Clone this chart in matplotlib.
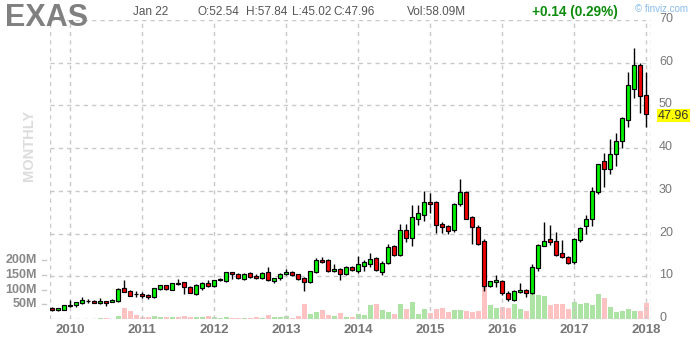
import matplotlib
matplotlib.use("Agg")
import matplotlib.pyplot as plt
import numpy as np

# ---------------- data (monthly, Oct 2009 .. Jan 2018) ----------------
opens = [2.5, 2.05, 2.05, 3.15, 3.2, 3.7, 4.15, 4.3, 3.7, 4.2,
         4.0, 4.1, 7.2, 6.6, 5.85, 5.85, 5.6, 5.1, 6.95, 7.9,
         6.9, 8.35, 8.6, 7.5, 5.95, 7.2, 8.4, 7.8, 9.2, 8.9,
         10.9, 10.5, 9.3, 10.8, 10.1, 9.5, 10.9, 9.0, 9.5, 10.5,
         11.0, 10.5, 9.6, 8.7, 10.9, 13.8, 13.8, 11.2, 11.7, 10.6,
         12.2, 11.2, 12.3, 12.8, 14.3, 10.9, 13.0, 17.0, 15.1, 20.8,
         18.9, 23.5, 24.3, 27.5, 27.3, 22.2, 21.8, 20.8, 26.9, 29.7,
         23.8, 21.5, 18.3, 7.8, 8.6, 8.9, 6.2, 4.5, 6.3, 6.9,
         6.2, 11.9, 17.2, 18.7, 18.2, 15.5, 14.6, 13.3, 18.4, 21.7,
         23.3, 29.7, 36.9, 35.1, 38.6, 41.6, 46.5, 53.8, 59.5, 52.54]
highs = [2.7, 2.6, 3.3, 4.45, 4.0, 5.1, 4.6, 4.5, 4.8, 4.3,
         4.7, 7.2, 9.1, 6.8, 6.6, 6.4, 5.9, 7.3, 8.0, 8.0,
         8.5, 9.3, 8.7, 7.7, 8.1, 8.6, 9.1, 9.2, 9.6, 11.1,
         11.0, 10.8, 10.7, 10.9, 10.6, 10.9, 12.1, 9.6, 10.7, 11.8,
         11.2, 10.6, 9.8, 11.3, 14.2, 14.6, 14.0, 12.9, 11.9, 12.3,
         12.4, 14.75, 13.9, 15.4, 14.5, 13.5, 17.6, 17.3, 22.2, 22.2,
         26.7, 26.7, 30.0, 29.4, 27.6, 22.6, 22.0, 27.1, 32.8, 30.0,
         24.2, 21.9, 18.7, 9.0, 10.2, 9.2, 6.6, 6.9, 8.5, 7.0,
         12.8, 17.5, 22.7, 22.0, 20.4, 18.5, 14.8, 18.9, 21.5, 24.4,
         30.8, 36.4, 38.8, 42.2, 43.6, 47.4, 57.8, 63.4, 59.9, 57.84]
lows = [1.9, 1.95, 2.0, 2.9, 2.9, 3.6, 3.7, 3.7, 3.6, 3.0,
        3.9, 4.0, 6.3, 5.3, 5.2, 5.0, 4.6, 4.9, 6.8, 6.8,
        6.8, 8.0, 5.8, 6.0, 5.7, 6.8, 7.5, 7.6, 8.8, 8.7,
        9.3, 9.3, 9.2, 9.6, 9.3, 9.3, 8.8, 8.5, 9.2, 10.2,
        10.1, 9.1, 6.6, 8.5, 10.8, 13.0, 11.0, 11.0, 9.2, 10.3,
        11.3, 10.7, 11.3, 12.1, 11.3, 10.4, 12.8, 14.8, 14.8, 18.1,
        17.1, 21.9, 23.0, 24.7, 20.1, 20.2, 19.8, 20.3, 26.5, 23.3,
        17.6, 17.4, 6.6, 7.5, 7.4, 5.6, 4.3, 4.2, 6.1, 5.1,
        5.8, 11.3, 17.0, 17.4, 14.8, 14.3, 12.9, 12.8, 18.0, 20.0,
        21.8, 29.2, 30.8, 34.0, 35.9, 40.1, 45.0, 51.7, 48.2, 45.02]
closes = [2.05, 2.5, 3.2, 3.1, 3.9, 4.35, 4.1, 3.75, 4.2, 3.7,
          4.5, 6.95, 6.4, 5.5, 5.8, 5.3, 5.1, 7.2, 7.9, 6.95,
          8.4, 8.25, 7.4, 6.2, 7.9, 8.4, 7.65, 9.1, 9.3, 10.9,
          10.5, 9.5, 10.6, 9.8, 9.5, 10.8, 9.05, 9.5, 10.5, 11.0,
          10.2, 9.3, 8.7, 11.2, 13.8, 13.3, 11.2, 11.7, 10.6, 12.2,
          11.4, 12.9, 13.35, 14.05, 11.5, 13.2, 16.8, 15.1, 20.8, 18.9,
          23.8, 24.8, 27.3, 26.9, 21.9, 21.6, 20.5, 26.9, 29.7, 23.5,
          21.6, 17.5, 7.8, 8.8, 9.1, 6.2, 4.6, 6.6, 6.8, 6.2,
          12.1, 17.3, 18.2, 18.1, 15.1, 14.4, 13.0, 18.7, 21.2, 23.4,
          29.9, 36.2, 35.1, 38.6, 41.6, 47.0, 54.8, 59.5, 52.1, 47.96]
volumes_m = [0.5, 0.5, 0.5, 0.5, 0.5, 1, 1, 1, 4.5, 2.3,
             1, 10, 37, 28, 14, 7, 7, 10, 7, 7,
             7, 7, 10, 7, 7, 7, 10, 7, 4.5, 5.5,
             3.4, 3.4, 3.4, 4, 6, 3.4, 13, 7, 7, 9,
             3.4, 10, 51, 17, 24, 31, 13.6, 9, 20, 6.8,
             6.8, 17, 14.7, 47.6, 51, 30.6, 25, 18, 51, 35,
             58, 17, 34, 20.4, 34, 37.4, 25, 29, 30.6, 27.2,
             25, 26, 112, 47.6, 37.4, 40.8, 37.4, 51, 34, 27,
             120, 80, 78, 46.5, 51, 51, 33, 58, 51, 55,
             46.5, 85, 70, 40.8, 23.8, 27, 34, 27, 27, 54]
year_labels = ["2010", "2011", "2012", "2013", "2014", "2015", "2016", "2017", "2018"]
year_index = [3, 15, 27, 39, 51, 63, 75, 87, 99]
price_ticks = [0, 10, 20, 30, 40, 50, 60, 70]
vol_ticks = [50, 100, 150, 200]
vol_tick_labels = ["50M", "100M", "150M", "200M"]
header_ohlc = ["O:52.54", "H:57.84", "L:45.02", "C:47.96"]

# ---------------- figure ----------------
W, H = 700, 340
fig = plt.figure(figsize=(W / 100, H / 100), dpi=100)
fig.patch.set_facecolor("white")

ax_l, ax_r, ax_t, ax_b = 50, 651, 20, 319
pos = [ax_l / W, 1 - ax_b / H, (ax_r - ax_l) / W, (ax_b - ax_t) / H]
vax = fig.add_axes(pos)
ax = fig.add_axes(pos)
ax.patch.set_alpha(0)

n = len(closes)
x = np.arange(n)
x0 = (ax_l - 52.3) / 6.0
x1 = (ax_r - 52.3) / 6.0

grid_c = "#c8c8c8"
dash = (0, (3, 3))

# volume
vol_max = (ax_b - ax_t) / 0.294
up = [c >= o for o, c in zip(opens, closes)]
vcols = ["#ade3a5" if u else "#ffc2c2" for u in up]
vax.bar(x, volumes_m, width=0.82, color=vcols, linewidth=0, zorder=1)
vax.set_xlim(x0, x1)
vax.set_ylim(0, vol_max)
vax.axis("off")

# grid
for p in price_ticks:
    ax.axhline(p, color=grid_c, lw=1, ls=dash, zorder=0)
for xi in year_index:
    ax.axvline(xi, color=grid_c, lw=1, ls=dash, zorder=0)
ax.axvline(x0 + 0.05, color=grid_c, lw=1, ls=dash, zorder=0)
ax.axvline(x1 - 0.05, color=grid_c, lw=1, ls=dash, zorder=0)

# candles
bw = 0.64
for i in range(n):
    o, h, l, c = opens[i], highs[i], lows[i], closes[i]
    ax.vlines(x[i], l, h, color="black", lw=1.0, zorder=2)
    bot = min(o, c)
    ht = max(abs(c - o), 0.12)
    col = "#00f000" if c >= o else "#f00000"
    ax.add_patch(plt.Rectangle((x[i] - bw / 2, bot), bw, ht, facecolor=col,
                               edgecolor="black", lw=0.85, zorder=3))

ax.set_xlim(x0, x1)
ax.set_ylim(0, 70)
ax.axis("off")

font = "Liberation Sans"

def ftext(px, py, s, **kw):
    kw.setdefault("family", font)
    return fig.text(px / W, 1 - py / H, s, **kw)

# price labels right
for p in price_ticks:
    py = ax_b - (ax_b - ax_t) * p / 70
    ftext(659, py - 1, str(p), fontsize=9, color="#777777", va="center", ha="left")

# last price yellow box
last = closes[-1]
py = ax_b - (ax_b - ax_t) * last / 70
ftext(658, py + 1.5, f"{last:.2f}", fontsize=9, color="#333333", va="center", ha="left",
      bbox=dict(boxstyle="square,pad=0.06", facecolor="#ffff00", edgecolor="none"))

# volume labels left
for v, lab in zip(vol_ticks, vol_tick_labels):
    py = ax_b - v * 0.294
    ftext(37, py, lab, fontsize=9, color="#888888", va="center", ha="right", weight="bold")
    fig.add_artist(plt.Line2D([42 / W, 46 / W], [1 - py / H, 1 - py / H],
                              color=grid_c, lw=1, transform=fig.transFigure))

# year labels
for xi, lab in zip(year_index, year_labels):
    px = 52.3 + 6 * xi
    ftext(px, 330, lab, fontsize=9.5, color="#777777", va="center", ha="center", weight="bold")

# header
ftext(5, 18, "EXAS", fontsize=22, color="#808080", weight="bold", va="center", ha="left")
ftext(133, 12, "Jan 22", fontsize=8.5, color="#555555", va="center", ha="left")
for hx, s in zip([198, 246, 292, 333], header_ohlc):
    ftext(hx, 12, s, fontsize=8.5, color="#555555", va="center", ha="left")
ftext(407, 12, "Vol:58.09M", fontsize=8.5, color="#555555", va="center", ha="left")
ftext(532, 12, "+0.14 (0.29%)", fontsize=9.8, color="#0c8c0c", weight="bold",
      va="center", ha="left")
ftext(635, 9, "\u00a9 finviz.com", fontsize=7, color="#88bbee", va="center", ha="left")

# MONTHLY vertical
ftext(29, 145, "MONTHLY", fontsize=10.5, color="#dcdcdc", weight="bold", rotation=90,
      va="center", ha="center")

fig.savefig("out.png", dpi=100, facecolor="white")
